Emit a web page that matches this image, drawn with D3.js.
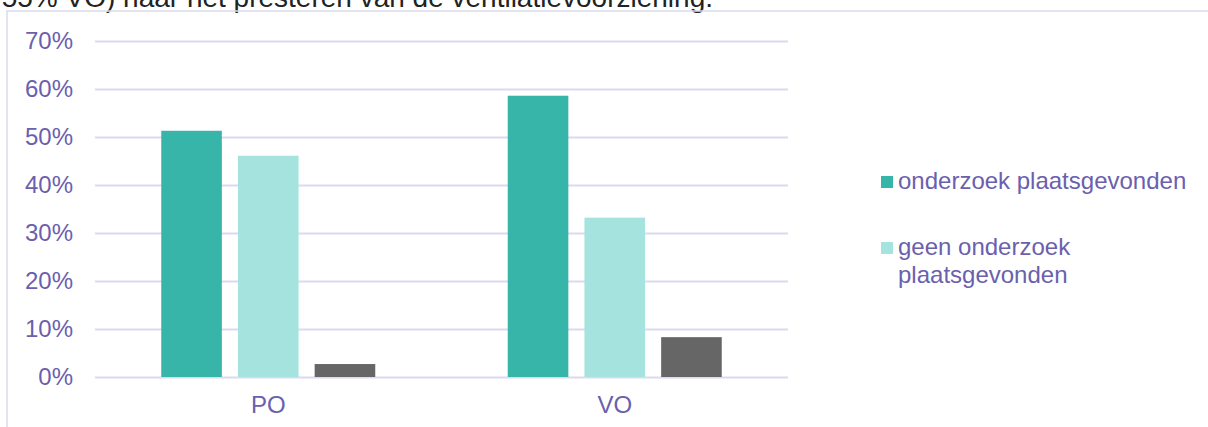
<!DOCTYPE html>
<html>
<head>
<meta charset="utf-8">
<script src="https://cdn.jsdelivr.net/npm/d3@7"></script>
<style>
  body { margin: 0; background: #fff; }
  svg { display: block; font-family: Arial, "Liberation Sans", sans-serif; }
</style>
</head>
<body>
<svg id="chart" width="1208" height="427"></svg>
<script>
  const categories = ["PO", "VO"];
  const seriesNames = ["onderzoek plaatsgevonden", "geen onderzoek plaatsgevonden", "weet niet"];
  const seriesValues = [
    [51.3, 58.6],
    [46.1, 33.2],
    [2.7, 8.3]
  ];
  const tickValues = [0, 10, 20, 30, 40, 50, 60, 70];
  const legendLines = [["onderzoek plaatsgevonden"], ["geen onderzoek", "plaatsgevonden"]];
  const titleText = "55% VO) naar het presteren van de ventilatievoorziening.";

  (function() {
    const colors = ["#37b5a9", "#a5e3de", "#666666"];
    const purple = "#6a60ae";
    const gridColor = "#dcdaee";
    const fontSize = 24;

    const svg = d3.select('#chart');

    // clipped title line from the surrounding document
    svg.append('text')
       .attr('x', 713)
       .attr('y', 7)
       .attr('text-anchor', 'end')
       .attr('font-size', 28)
       .attr('fill', '#222')
       .text(titleText);

    // chart frame
    svg.append('rect')
       .attr('x', 7).attr('y', 11)
       .attr('width', 1210).attr('height', 430)
       .attr('fill', 'none')
       .attr('stroke', gridColor)
       .attr('stroke-width', 1.5);

    const plotLeft = 95, plotRight = 788, plotTop = 41, plotBottom = 377;

    const y = d3.scaleLinear().domain([0, 70]).range([plotBottom, plotTop]);
    const x0 = d3.scaleBand().domain(categories).range([plotLeft, plotRight]).paddingInner(0).paddingOuter(0);
    const x1 = d3.scaleBand().domain(d3.range(seriesValues.length))
                 .range([x0.bandwidth() / 2 - 107, x0.bandwidth() / 2 + 107])
                 .paddingInner(0.21).paddingOuter(0);

    // gridlines + y labels
    const yAxis = d3.axisLeft(y).tickValues(tickValues)
                    .tickSize(-(plotRight - plotLeft)).tickFormat(d => d + "%");
    const gy = svg.append('g').attr('transform', `translate(${plotLeft},0)`).call(yAxis);
    gy.select('.domain').remove();
    gy.selectAll('.tick line').attr('stroke', gridColor).attr('stroke-width', 2);
    gy.selectAll('.tick text')
      .attr('x', -22)
      .attr('fill', purple)
      .attr('font-size', fontSize)
      .attr('font-family', 'Arial, "Liberation Sans", sans-serif');

    // bars
    seriesValues.forEach((vals, si) => {
      svg.append('g')
         .selectAll('rect')
         .data(vals)
         .enter()
         .append('rect')
         .attr('x', (d, i) => x0(categories[i]) + x1(si))
         .attr('y', d => y(d))
         .attr('width', x1.bandwidth())
         .attr('height', d => y(0) - y(d))
         .attr('fill', colors[si]);
    });

    // category axis
    const xAxis = d3.axisBottom(x0).tickSize(0);
    const gx = svg.append('g').attr('transform', `translate(0,${plotBottom})`).call(xAxis);
    gx.select('.domain').remove();
    gx.selectAll('.tick text')
      .attr('y', 28)
      .attr('dy', '0.32em')
      .attr('fill', purple)
      .attr('font-size', fontSize)
      .attr('font-family', 'Arial, "Liberation Sans", sans-serif');

    // legend (only the first two series are listed)
    const legendY = [189, 255];
    legendLines.forEach((lines, i) => {
      const g = svg.append('g');
      g.append('rect')
       .attr('x', 881).attr('y', legendY[i] - 13)
       .attr('width', 12).attr('height', 12)
       .attr('fill', colors[i]);
      const t = g.append('text')
       .attr('x', 898).attr('y', legendY[i])
       .attr('fill', purple)
       .attr('font-size', fontSize);
      lines.forEach((line, j) => {
        t.append('tspan').attr('x', 898).attr('dy', j === 0 ? 0 : 28).text(line);
      });
    });
  })();
</script>
</body>
</html>
